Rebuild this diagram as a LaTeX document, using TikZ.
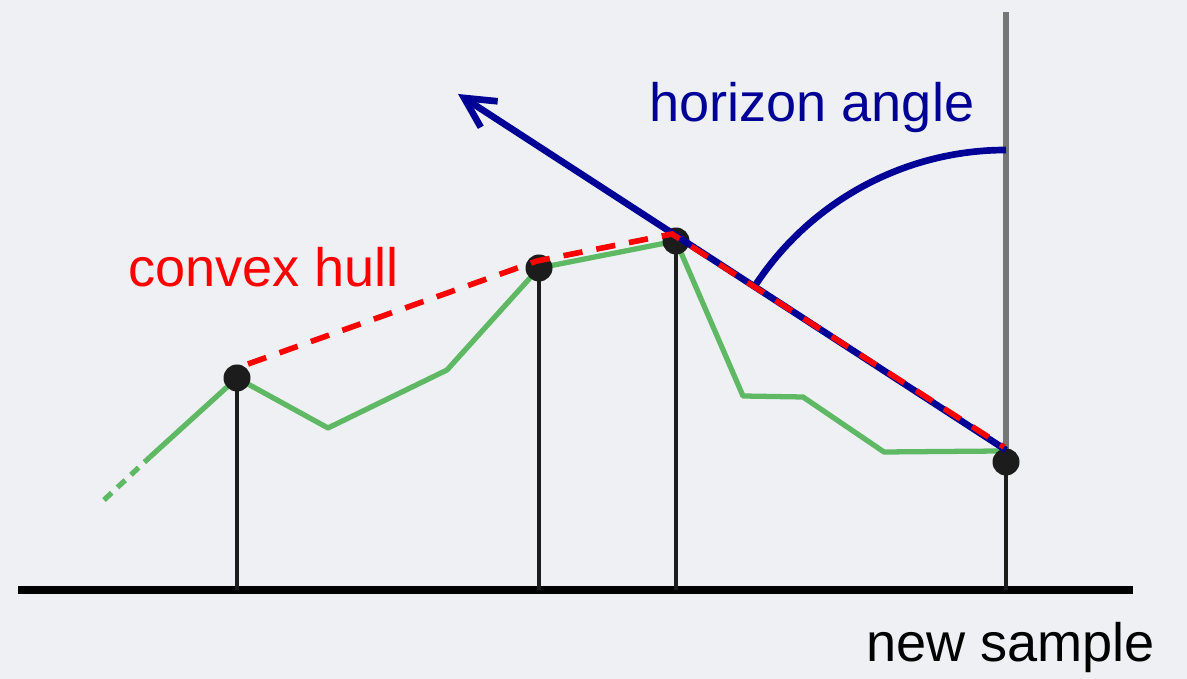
\documentclass[tikz,border=0pt]{standalone}
\usepackage{xcolor}
\usepackage{fontspec}
\setmainfont{Liberation Sans}
\usetikzlibrary{arrows.meta}
\definecolor{bgcol}{RGB}{238,240,243}
\definecolor{hullred}{RGB}{255,0,0}
\definecolor{horblue}{RGB}{0,0,150}
\definecolor{hfgreen}{RGB}{95,185,100}
\definecolor{stemblack}{RGB}{28,28,28}
\definecolor{axgray}{RGB}{118,118,118}

\begin{document}
\begin{tikzpicture}[x=0.02cm,y=0.02cm,
  every node/.style={font=\fontsize{30.8}{36}\selectfont,inner sep=0pt},
  stem/.style={line width=2.6pt,stemblack},
  sample/.style={fill=stemblack},
  field/.style={line width=3pt,hfgreen,line join=round},
  hull/.style={line width=3.2pt,hullred,dash pattern=on 11pt off 8pt},
  horizon/.style={line width=3.8pt,horblue}]
 \fill[bgcol] (0,0) rectangle (1187,679);
 \useasboundingbox (0,0) rectangle (1187,679);
 % samples and ground
 \coordinate (a) at (237,301);
 \coordinate (b) at (539,411);
 \coordinate (c) at (676,438);
 \coordinate (d) at (1006,217);
 \coordinate (gl) at (18,89);
 \coordinate (gr) at (1133,89);
 \coordinate (top) at (1006,667);
 \draw[line width=3.2pt,axgray] (top)--(d);
 \draw[line width=5pt,black] (gl)--(gr);
 \foreach \p in {a,b,c,d}
  \draw[stem] (\p)--(\p |- gl);
 % height field
 \draw[field,dash pattern=on 6pt off 4.5pt] (104,179)--(150,222);
 \draw[field] (150,222)--(a)--(328,251)--(447,309)--(b)--(c)--(743,283)--(803,282)--(884,227)--(1000,228);
 \foreach \p in {a,b,c,d}
  \fill[sample] (\p) circle (0.27cm);
 % horizon vector and angle
 \coordinate (hs) at (1006,229);
 \coordinate (ht) at (458,585);
 \draw[horizon,-{Straight Barb[length=0.6cm,width=0.62cm]}] (hs)--(ht);
 \draw[horizon] (1006,529) arc[start angle=90,end angle=147,radius=6cm];
 \draw[hull] (248,315)--(537,418)--(672,445)--(1004,232);
 % labels
 \node[anchor=base west,text=horblue] (lhor) at (649,557) {horizon angle};
 \node[anchor=base west,text=hullred] (lhull) at (128,392) {convex hull};
 \node[anchor=base west,text=black] (lnew) at (866,17) {new sample};
\end{tikzpicture}
\end{document}
